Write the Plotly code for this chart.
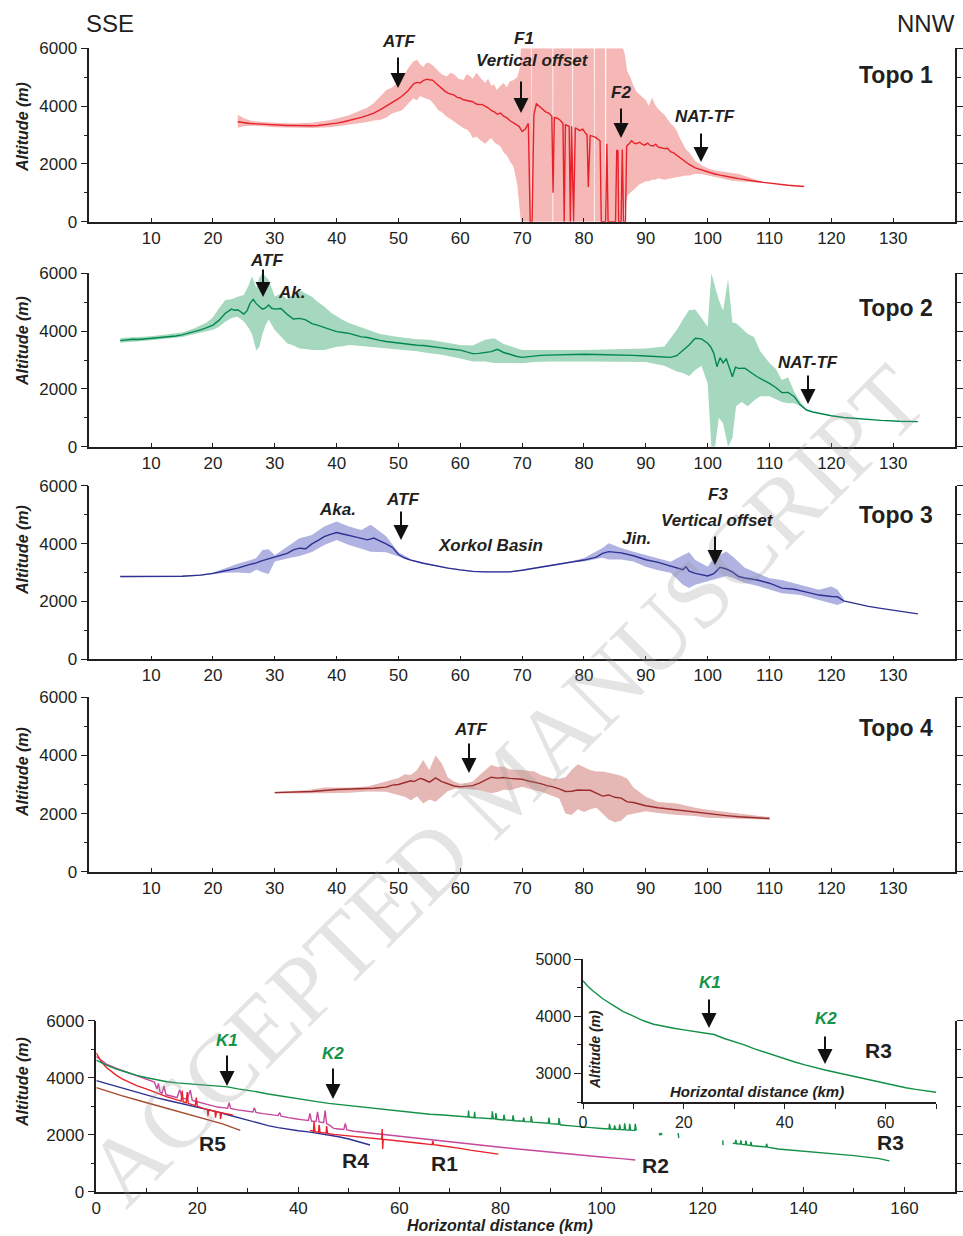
import plotly.graph_objects as go

# ------------------------------------------------------------------ data
# Topo 1 (mean line, swath min/max)
t1_km = [24, 25, 26, 27, 28, 29, 30, 31, 32, 33, 34, 35, 36, 37, 38, 39, 40, 41, 42, 43,
         44, 45, 46, 47, 48, 49, 50, 50.5, 51, 51.5, 52, 52.5, 53, 53.5, 54, 54.6, 55, 55.5, 56, 56.5,
         57, 57.5, 58, 58.5, 59, 59.5, 60, 60.5, 61, 61.5, 62, 62.5, 63, 63.5, 64, 64.5, 65, 65.5, 66, 66.5,
         67, 67.5, 68, 68.5, 69, 69.5, 70, 70.5, 71, 71.3, 71.6, 71.9, 72.3, 72.8, 73.3, 73.8, 74.3, 74.8, 75, 75.2,
         75.7, 76.2, 76.6, 76.8, 77, 77.6, 77.8, 78, 78.3, 78.6, 79.3, 79.8, 80.3, 80.5, 80.7, 81, 81.5, 82,
         82.6, 82.8, 83.5, 83.7, 83.9, 85.1, 85.3, 85.5, 85.6, 86.0, 86.2, 86.4, 86.7, 86.9, 87.3, 87.7, 88.1, 88.5,
         89, 89.4, 89.8, 90.3, 90.7, 91.2, 91.6, 92, 92.5, 93, 93.5, 94, 94.5, 95, 96, 97, 98, 99,
         100, 101, 102, 103, 104, 105, 106, 107, 108, 109, 110, 111, 112, 113, 114, 115, 115.6]
t1_mean = [3460, 3420, 3400, 3385, 3370, 3360, 3345, 3340, 3330, 3330, 3320, 3315, 3320, 3330, 3350, 3380, 3410, 3450, 3500, 3550,
           3610, 3680, 3760, 3870, 3990, 4130, 4260, 4330, 4420, 4520, 4650, 4780, 4820, 4800, 4880, 4930, 4910, 4900, 4800, 4700,
           4600, 4520, 4450, 4420, 4380, 4300, 4280, 4220, 4200, 4170, 4150, 4080, 4050, 4060, 4000, 3940, 3850, 3800, 3720, 3760,
           3650, 3600, 3500, 3440, 3380, 3300, 3120, 3200, 3400, 0, 0, 3700, 4080, 3980, 3900, 3800, 3760, 3650, 1000, 3600,
           3580, 3500, 3400, 0, 3350, 3300, 0, 3300, 0, 3250, 3150, 3200, 3050, 3000, 1200, 2980, 2950, 2900,
           2800, 0, 0, 2700, 0, 0, 2480, 2450, 0, 0, 2500, 0, 0, 2620, 2700, 2800, 2720, 2700,
           2750, 2680, 2650, 2720, 2640, 2620, 2680, 2580, 2560, 2530, 2540, 2420, 2380, 2300, 2150, 1980, 1860, 1790,
           1720, 1660, 1610, 1560, 1530, 1490, 1450, 1420, 1390, 1360, 1330, 1300, 1280, 1260, 1245, 1230, 1220]
t1_band_km = [24, 25, 26, 27, 30, 33, 36, 39, 42, 45, 46, 47, 48, 49, 49.7, 50.5, 51, 51.7, 52.4, 53,
              53.5, 54, 54.5, 55.1, 55.6, 56, 56.5, 57, 57.8, 58.4, 59, 59.7, 60.5, 61, 61.5, 62, 62.6, 63.2, 64, 64.5,
              65, 65.5, 65.9, 66.5, 67, 67.5, 68, 68.6, 69.2, 69.6, 69.8, 71.4, 71.42, 71.52, 71.54, 74.9, 74.92, 75.02, 75.04, 78.1,
              78.12, 78.22, 78.24, 81.6, 81.62, 81.72, 81.74, 83.4, 83.42, 83.58, 83.6, 86.3, 86.6, 87, 87.5, 88, 88.5, 89, 89.5, 90,
              90.5, 91, 91.5, 92, 92.5, 93, 93.5, 94, 94.5, 95, 95.5, 96, 96.5, 97, 98, 99, 100, 101, 102, 103,
              104, 105, 106, 107, 108, 109, 110]
t1_lo = [3250, 3300, 3320, 3320, 3270, 3250, 3240, 3270, 3350, 3450, 3500, 3520, 3600, 3750, 3800, 3850, 3950, 4100, 4270, 4200,
         4350, 4300, 4250, 4210, 4100, 4000, 3850, 3800, 3635, 3550, 3450, 3350, 3230, 3200, 3100, 2900, 2950, 2830, 2700, 2800,
         2900, 2750, 2700, 2600, 2400, 2300, 2100, 1900, 1300, 500, 0, 0, 3000, 3000, 0, 0, 3000, 3000, 0, 0,
         3000, 3000, 0, 0, 3000, 3000, 0, 0, 3000, 3000, 0, 0, 500, 900, 1000, 1100, 1200, 1300, 1350, 1400,
         1400, 1450, 1450, 1500, 1480, 1450, 1480, 1500, 1530, 1550, 1570, 1600, 1600, 1600, 1650, 1650, 1600, 1550, 1500, 1450,
         1420, 1400, 1380, 1370, 1360, 1340, 1330]
t1_hi = [3700, 3580, 3500, 3470, 3420, 3400, 3420, 3520, 3680, 3950, 4100, 4330, 4550, 4650, 4790, 4950, 5100, 5350, 5540, 5600,
         5450, 5350, 5500, 5480, 5400, 5300, 5200, 5100, 5020, 5150, 5100, 4950, 4900, 5100, 5050, 4950, 5150, 5000, 4800, 4950,
         4700, 4750, 4560, 4700, 4800, 4650, 4850, 4900, 5000, 5300, 6000, 6000, 3000, 3000, 6000, 6000, 3000, 3000, 6000, 6000,
         3000, 3000, 6000, 6000, 3000, 3000, 6000, 6000, 3000, 3000, 6000, 6000, 5800, 5200, 5000, 4700, 4500, 4400, 4300, 4200,
         4000, 4300, 4050, 3900, 3800, 3700, 3550, 3400, 3300, 3150, 2900, 2700, 2500, 2400, 2100, 1950, 1850, 1780, 1750, 1720,
         1700, 1650, 1580, 1500, 1430, 1380, 1340]

# Topo 2
t2_km = [5, 6, 7, 8, 9, 10, 11, 12, 13, 14, 15, 16, 17, 18, 19, 20, 21, 22, 23, 23.5,
         24, 25, 25.5, 26, 26.5, 27, 27.5, 28, 28.5, 29, 29.5, 30, 31, 32, 33, 34, 35, 36, 37, 38,
         39, 40, 41, 42, 43, 44, 45, 46, 47, 48, 49, 50, 51, 52, 53, 54, 55, 56, 57, 58,
         59, 60, 61, 62, 63, 64, 65, 66, 67, 68, 69, 70, 71, 72, 73, 74, 75, 76, 78, 80,
         82, 84, 86, 88, 90, 92, 94, 95, 96, 97, 98, 99, 100, 100.5, 101, 101.5, 102, 102.5, 103, 103.5,
         104, 104.5, 105, 106, 107, 108, 109, 110, 111, 112, 113, 114, 115, 116, 117, 118, 120, 122, 125, 128,
         131, 134]
t2_mean = [3670, 3690, 3720, 3710, 3730, 3740, 3750, 3770, 3800, 3830, 3870, 3920, 3980, 4040, 4120, 4210, 4380, 4620, 4760, 4720,
           4740, 4590, 4700, 4960, 5100, 4950, 4850, 4760, 4800, 4900, 4790, 4760, 4780, 4580, 4420, 4440, 4390, 4260, 4200, 4120,
           4060, 3980, 3950, 3920, 3860, 3800, 3780, 3720, 3680, 3640, 3610, 3580, 3550, 3530, 3510, 3500, 3480, 3450, 3420, 3390,
           3360, 3340, 3280, 3220, 3230, 3270, 3290, 3370, 3260, 3200, 3130, 3090, 3120, 3150, 3160, 3170, 3175, 3190, 3200, 3200,
           3190, 3185, 3180, 3160, 3140, 3110, 3090, 3150, 3340, 3520, 3750, 3730, 3580, 3450, 3230, 2770, 3080, 2900, 3050, 2700,
           2420, 2750, 2710, 2720, 2560, 2420, 2300, 2190, 2050, 1870, 1880, 1730, 1440, 1270, 1200, 1150, 1070, 1010, 950, 910,
           880, 866]
t2_band_km = [5, 10, 15, 17, 19, 20, 21, 22, 23, 24, 25, 25.8, 26.3, 27, 27.5, 28, 28.5, 29, 30, 31,
              32, 33, 34, 35, 36, 37, 38, 39, 40, 41, 42, 43, 45, 47, 50, 53, 55, 57, 60, 62,
              64, 65.5, 67, 70, 72, 75, 80, 85, 90, 93, 95, 96, 97, 98, 99, 100, 100.6, 101.2, 101.8, 102.5,
              103.3, 104, 104.6, 105.5, 106.5, 107.5, 108.5, 110, 111, 112, 113, 114, 115, 116]
t2_lo = [3600, 3680, 3800, 3900, 4000, 4050, 4150, 4320, 4450, 4500, 4330, 4100, 3900, 3340, 3450, 3900, 4200, 4400, 4040, 3800,
         3580, 3500, 3400, 3380, 3350, 3350, 3350, 3400, 3460, 3480, 3520, 3500, 3460, 3400, 3350, 3300, 3230, 3180, 3050, 2950,
         2950, 2900, 2900, 2890, 2930, 2950, 2950, 2940, 2930, 2800, 2600, 2550, 2450, 2650, 2800, 2190, 0, 0, 1000, 800,
         0, 300, 1400, 1550, 1400, 1600, 1750, 1750, 1650, 1550, 1500, 1500, 1400, 1250]
t2_hi = [3760, 3820, 3950, 4100, 4300, 4480, 4800, 5080, 5100, 5190, 5250, 5600, 5900, 5500, 5850, 6000, 5900, 5770, 5200, 5300,
         5100, 5250, 5420, 5300, 5190, 5000, 4850, 4650, 4500, 4380, 4280, 4200, 4040, 3900, 3800, 3720, 3700, 3620, 3520, 3500,
         3700, 3750, 3550, 3350, 3340, 3350, 3350, 3370, 3400, 3470, 4040, 4400, 4730, 4750, 4450, 4150, 6000, 5500, 5077, 4700,
         5800, 4300, 4270, 4100, 3900, 3800, 3300, 2900, 2700, 2310, 2400, 1900, 1550, 1300]

# Topo 3
t3_km = [5, 10, 15, 18, 20, 22, 24, 26, 27, 28, 29, 30, 31, 32, 33, 34, 35, 36, 37, 38,
         39, 40, 41, 42, 43, 44, 45, 46, 47, 48, 49, 50, 51, 52, 54, 56, 58, 60, 62, 64,
         66, 68, 70, 72, 74, 76, 78, 80, 82, 83, 84, 85, 86, 88, 90, 92, 94, 95, 96, 96.5,
         97, 98, 99, 100, 101, 102, 103, 104, 105, 106, 108, 110, 112, 114, 116, 118, 120, 121, 122, 124,
         126, 128, 130, 132, 134]
t3_mean = [2860, 2860, 2870, 2910, 2970, 3060, 3150, 3280, 3330, 3410, 3470, 3520, 3590, 3660, 3780, 3840, 3820, 3990, 4110, 4240,
           4320, 4380, 4330, 4270, 4230, 4180, 4130, 4190, 4100, 3990, 3870, 3620, 3500, 3430, 3320, 3230, 3150, 3090, 3040, 3020,
           3010, 3020, 3080, 3150, 3230, 3300, 3370, 3430, 3530, 3660, 3720, 3700, 3680, 3580, 3440, 3350, 3220, 3150, 3100, 3200,
           3050, 2970, 2920, 2880, 2960, 3180, 3120, 3020, 2860, 2810, 2740, 2630, 2460, 2420, 2320, 2220, 2170, 2160, 2020, 1920,
           1830, 1760, 1700, 1630, 1570]
t3_band_km = [5, 10, 15, 18, 20, 22, 24, 26, 27, 28, 29, 30, 32, 34, 36, 38, 40, 42, 44, 45.5,
              47, 48, 50, 52, 54, 56, 58, 60, 62, 64, 66, 68, 70, 72, 74, 76, 78, 80, 83, 84,
              86, 88, 90, 92, 94, 96, 97, 98, 100, 101, 103, 104, 106, 108, 110, 112, 115, 118, 120, 121,
              122]
t3_lo = [2840, 2840, 2850, 2890, 2940, 2990, 3000, 2970, 3100, 3010, 2950, 3380, 3480, 3570, 3710, 3950, 4120, 3950, 3820, 3720,
         3710, 3700, 3550, 3400, 3300, 3210, 3130, 3070, 3020, 3000, 2990, 3000, 3060, 3130, 3210, 3280, 3350, 3380, 3510, 3450,
         3450, 3380, 3200, 3080, 2990, 2580, 2460, 2580, 2690, 2760, 2880, 2820, 2640, 2540, 2400, 2280, 2220, 2050, 1940, 1880,
         1960]
t3_hi = [2880, 2880, 2890, 2930, 3000, 3150, 3300, 3420, 3500, 3780, 3800, 3600, 3900, 4180, 4300, 4590, 4760, 4590, 4470, 4650,
         4420, 4250, 3700, 3460, 3345, 3250, 3170, 3110, 3060, 3040, 3030, 3040, 3100, 3170, 3250, 3320, 3390, 3500, 3850, 4010,
         3850, 3720, 3600, 3480, 3370, 3600, 3700, 3430, 3200, 3500, 3730, 3560, 3160, 2980, 2800, 2740, 2570, 2400, 2520, 2400,
         2100]

# Topo 4
t4_km = [30, 33, 36, 40, 43, 46, 48, 49, 50, 51, 52, 52.5, 53, 53.5, 54, 55, 55.5, 56, 57, 58,
         59, 60, 61, 62, 63, 64, 65, 66, 67, 68, 69, 70, 71, 72, 73, 74, 75, 76, 77, 78,
         79, 80, 81, 82, 83, 84, 85, 86, 87, 88, 90, 92, 95, 98, 100, 103, 105, 108, 110]
t4_mean = [2720, 2730, 2760, 2830, 2850, 2870, 2910, 2980, 3000, 3060, 3130, 3100, 3150, 3210, 3180, 3080, 3150, 3230, 3100, 3020,
           2950, 2920, 2940, 2960, 3040, 3150, 3250, 3220, 3240, 3210, 3200, 3180, 3120, 3080, 3030, 2960, 2920, 2850, 2760, 2770,
           2810, 2800, 2800, 2700, 2600, 2640, 2560, 2530, 2400, 2380, 2270, 2200, 2120, 2040, 1990, 1930, 1890, 1860, 1830]
t4_band_km = [30, 35, 38, 42, 45, 48, 50, 51, 52, 53, 54, 55, 56, 57, 58, 59, 60, 61, 62, 63,
              64, 65, 66, 67, 68, 70, 72, 73, 75, 76, 77, 78, 79, 80, 81, 82, 83, 84, 85, 86,
              87, 88, 90, 92, 95, 98, 100, 105, 110]
t4_lo = [2690, 2690, 2700, 2720, 2760, 2750, 2650, 2580, 2460, 2600, 2350, 2480, 2410, 2590, 2780, 2850, 2860, 2850, 2830, 2820,
         2760, 2700, 2740, 2820, 2800, 2920, 2800, 2760, 2600, 2520, 2000, 1950, 2150, 2050, 2150, 2200, 2000, 1800, 1700, 1750,
         1950, 2000, 2080, 2020, 1950, 1920, 1860, 1820, 1790]
t4_hi = [2750, 2800, 2900, 2900, 2930, 3100, 3220, 3350, 3330, 3500, 3840, 3500, 4010, 3720, 3240, 3100, 3030, 3050, 3100, 3300,
         3500, 3670, 3600, 3620, 3520, 3500, 3450, 3330, 3200, 3200, 3250, 3500, 3700, 3600, 3500, 3450, 3450, 3400, 3350, 3300,
         3200, 2900, 2580, 2400, 2350, 2200, 2130, 2000, 1880]

# River long profiles (bottom panel)
r3_km = [0, 1, 2, 3, 4, 6, 8, 10, 12, 14, 16, 18, 20, 22, 24, 26, 28, 30, 32, 34,
         36, 38, 40, 42, 44, 46, 48, 50, 52, 54, 56, 58, 60, 62, 64, 66, 68, 70, 72, 73.6,
         73.7, 73.8, 74.8, 74.9, 75.0, 76, 78.3, 78.4, 78.6, 79, 79.1, 79.3, 80.6, 80.7, 80.9, 82.4, 82.5, 82.7, 84.5, 84.6,
         84.8, 86, 86.1, 86.3, 88, 89.5, 89.6, 89.8, 91.5, 91.6, 91.8, 92, 94, 96, 98, 100, 101.5, 101.6, 101.8, 102.5,
         102.6, 102.8, 103.5, 103.6, 103.8, 104.5, 104.6, 104.8, 105.5, 105.6, 105.8, 106.6, 106.7, 106.9, 107.1, 111.4, 111.6, 111.8, 112.0, 112.1,
         115.2, 115.3, 115.4, 124.0, 124.1, 124.2, 126.0, 126.5, 126.6, 126.8, 127.5, 127.6, 127.8, 128.5, 128.6, 128.8, 129.5, 129.6, 129.8, 131,
         132.6, 132.7, 132.9, 135, 140, 145, 150, 155, 157]
r3_alt = [4620, 4520, 4440, 4370, 4300, 4190, 4080, 4000, 3920, 3860, 3820, 3790, 3760, 3730, 3700, 3680, 3610, 3560, 3500, 3430,
          3370, 3310, 3250, 3200, 3150, 3100, 3060, 3020, 2980, 2940, 2900, 2860, 2820, 2780, 2750, 2720, 2700, 2670, 2640, 2620,
          2850, 2620, 2600, 2800, 2600, 2590, 2560, 2820, 2560, 2550, 2760, 2540, 2520, 2700, 2520, 2500, 2680, 2490, 2470, 2600,
          2460, 2450, 2650, 2440, 2420, 2400, 2600, 2390, 2370, 2580, 2360, 2340, 2310, 2290, 2250, 2220, 2200, 2380, 2200, 2190,
          2330, 2190, 2180, 2360, 2180, 2170, 2400, 2170, 2160, 2380, 2160, 2150, 2380, 2150, None, 2050, 1980, 2060, 1990, None,
          2060, 1880, None, 1800, 1630, None, 1700, 1690, 1820, 1680, 1670, 1800, 1660, 1650, 1790, 1640, 1620, 1750, 1610, 1590,
          1570, 1680, 1560, 1500, 1430, 1345, 1265, 1160, 1080]
r1_km = [0, 0.5, 1, 2, 3, 4, 5, 6, 7, 8, 10, 12, 14, 16, 16.8, 17, 17.2, 17.8, 18, 18.2,
         19.6, 19.8, 20, 21, 22, 22.1, 22.3, 23, 23.5, 23.6, 23.8, 24.5, 24.6, 24.8, 26, 27, 27.2, 42.3, 43, 43.1,
         43.3, 44, 44.1, 44.3, 45.5, 45.6, 45.8, 47, 48, 49, 50, 51, 52, 53, 55, 56.5, 56.6, 56.7, 56.8, 58,
         60, 62, 64, 66, 66.5, 66.6, 66.8, 68, 70, 72, 74, 76, 78, 79.6]
r1_alt = [4860, 4700, 4560, 4360, 4210, 4080, 3970, 3880, 3800, 3720, 3600, 3460, 3330, 3220, 3180, 3550, 3150, 3120, 3500, 3100,
          3020, 3300, 3000, 2930, 2880, 2650, 2870, 2840, 2820, 2600, 2810, 2780, 2550, 2770, 2730, 2690, None, 2150, 2120, 2450,
          2110, 2090, 2350, 2080, 2050, 2300, 2040, 2010, 1990, 1970, 1950, 1930, 1910, 1890, 1860, 1840, 2200, 1500, 1840, 1820,
          1780, 1740, 1700, 1660, 1650, 1780, 1650, 1620, 1580, 1520, 1460, 1410, 1360, 1320]
r2_km = [0, 1, 2, 4, 6, 8, 10, 11.5, 12, 12.3, 12.6, 13, 13.4, 13.8, 15, 16, 16.5, 17, 18, 18.6,
         19, 20, 21, 22, 23, 24, 25, 26, 26.3, 26.6, 28, 30, 31, 31.3, 31.6, 33, 35, 36, 36.3, 36.6,
         38, 39, 40, 41, 42, 42.3, 42.6, 43.5, 43.8, 44.1, 45, 45.3, 45.6, 46, 47, 48, 49, 49.3, 49.6, 51,
         53, 55, 57, 60, 63, 66, 70, 74, 76, 80, 85, 90, 95, 100, 104, 106.7]
r2_alt = [4740, 4600, 4480, 4330, 4200, 4060, 3950, 3850, 3600, 3800, 3500, 3450, 3700, 3400, 3350, 3300, 3580, 3280, 3250, 3560,
          3200, 3150, 3100, 3050, 3000, 2970, 2950, 2930, 3120, 2920, 2870, 2820, 2800, 2950, 2780, 2740, 2700, 2670, 2780, 2650,
          2600, 2560, 2540, 2520, 2500, 2750, 2480, 2460, 2800, 2450, 2420, 2850, 2380, 2350, 2220, 2200, 2180, 2400, 2170, 2120,
          2080, 2040, 2000, 1940, 1880, 1820, 1740, 1670, 1640, 1560, 1470, 1380, 1300, 1220, 1160, 1110]
r4_km = [0, 2, 4, 6, 8, 10, 12, 14, 16, 18, 20, 22, 24, 26, 28, 30, 32, 34, 36, 38,
         40, 42, 44, 46, 48, 50, 52, 54.2]
r4_alt = [3900, 3800, 3700, 3600, 3480, 3380, 3290, 3210, 3130, 3060, 2980, 2900, 2800, 2700, 2600, 2500, 2400, 2320, 2250, 2190,
          2140, 2100, 2050, 2000, 1930, 1850, 1760, 1640]
r5_km = [0, 5, 10, 15, 20, 25, 28.5]
r5_alt = [3650, 3370, 3120, 2880, 2640, 2380, 2150]

top_xticks = [10, 20, 30, 40, 50, 60, 70, 80, 90, 100, 110, 120, 130]
alt_ticks = [0, 2000, 4000, 6000]
bottom_xticks = [0, 20, 40, 60, 80, 100, 120, 140, 160]
inset_xticks = [0, 20, 40, 60]
inset_yticks = [3000, 4000, 5000]

# ------------------------------------------------------------------ layout helpers
W, H = 963, 1236

def fx(p):
    return p / W

def fy(p):
    return 1 - p / H

TOP_X = (89.3, 955)
TOP_Y = [(48.3, 221.7), (273.3, 446.7), (485.7, 659.3), (697.3, 871.7)]
BOT_X = (96.3, 955)
BOT_Y = (1020.7, 1191.7)
INS_X = (583, 936)
INS_Y = (959, 1102)

SANS = "Liberation Sans, Arial, Helvetica, sans-serif"
NARROW = "Liberation Sans Narrow, Arial Narrow, Liberation Sans, sans-serif"
INK = "#231f20"
TICKFONT = dict(family=SANS, size=17, color=INK)

fig = go.Figure()

topos = [
    (t1_km, t1_mean, t1_band_km, t1_lo, t1_hi, "#e8212a", "#f6b8b6"),
    (t2_km, t2_mean, t2_band_km, t2_lo, t2_hi, "#00884e", "#a6d8bf"),
    (t3_km, t3_mean, t3_band_km, t3_lo, t3_hi, "#2e3192", "#b0b2e2"),
    (t4_km, t4_mean, t4_band_km, t4_lo, t4_hi, "#9b2b2c", "#e5b8b5"),
]

layout_axes = {}
for i, (km, mean, bkm, lo, hi, lc, bc) in enumerate(topos, start=1):
    xa, ya = ("x" if i == 1 else f"x{i}"), ("y" if i == 1 else f"y{i}")
    fig.add_trace(go.Scatter(x=bkm, y=lo, xaxis=xa, yaxis=ya, mode="lines",
                             line=dict(width=0, color=bc), hoverinfo="skip", showlegend=False))
    fig.add_trace(go.Scatter(x=bkm, y=hi, xaxis=xa, yaxis=ya, mode="lines", fill="tonexty",
                             fillcolor=bc, line=dict(width=0, color=bc), hoverinfo="skip", showlegend=False))
    fig.add_trace(go.Scatter(x=km, y=mean, xaxis=xa, yaxis=ya, mode="lines",
                             line=dict(width=1.4, color=lc), showlegend=False))
    y0, y1 = TOP_Y[i - 1]
    layout_axes["xaxis" if i == 1 else f"xaxis{i}"] = dict(
        domain=[fx(TOP_X[0]), fx(TOP_X[1])], range=[0, 140], anchor=ya,
        tickvals=top_xticks, ticks="inside", ticklen=4, tickwidth=1.2, tickcolor=INK,
        showline=True, linecolor=INK, linewidth=1.5, showgrid=False, zeroline=False,
        tickfont=TICKFONT, automargin=False)
    layout_axes["yaxis" if i == 1 else f"yaxis{i}"] = dict(
        domain=[fy(y1), fy(y0)], range=[0, 6000], anchor=xa,
        tickvals=alt_ticks, ticks="outside", ticklen=7, tickwidth=1.2, tickcolor=INK,
        minor=dict(dtick=1000, ticks="outside", ticklen=4, tickcolor=INK),
        showline=True, linecolor=INK, linewidth=1.5, mirror="ticks", showgrid=False, zeroline=False,
        tickfont=TICKFONT, automargin=False)

# bottom panel
rivers = [
    (r5_km, r5_alt, "#a6492f"),
    (r4_km, r4_alt, "#2e3192"),
    (r2_km, r2_alt, "#c6479b"),
    (r1_km, r1_alt, "#e8212a"),
    (r3_km, r3_alt, "#119046"),
]
for km, alt, c in rivers:
    fig.add_trace(go.Scatter(x=km, y=alt, xaxis="x5", yaxis="y5", mode="lines",
                             line=dict(width=1.4, color=c), connectgaps=False, showlegend=False))
layout_axes["xaxis5"] = dict(
    domain=[fx(BOT_X[0]), fx(BOT_X[1])], range=[0, 170], anchor="y5",
    tickvals=bottom_xticks, ticks="inside", ticklen=5, tickwidth=1.2, tickcolor=INK,
    minor=dict(dtick=10, ticks="inside", ticklen=4, tickcolor=INK),
    showline=True, linecolor=INK, linewidth=1.5, showgrid=False, zeroline=False, tickfont=TICKFONT,
    automargin=False)
layout_axes["yaxis5"] = dict(
    domain=[fy(BOT_Y[1]), fy(BOT_Y[0])], range=[0, 6000], anchor="x5",
    tickvals=alt_ticks, ticks="outside", ticklen=7, tickwidth=1.2, tickcolor=INK,
    minor=dict(dtick=1000, ticks="outside", ticklen=4, tickcolor=INK),
    showline=True, linecolor=INK, linewidth=1.5, mirror="ticks", showgrid=False, zeroline=False,
    tickfont=TICKFONT, automargin=False)

# inset (R3, first 70 km)
fig.add_trace(go.Scatter(x=r3_km, y=r3_alt, xaxis="x6", yaxis="y6", mode="lines",
                         line=dict(width=1.4, color="#119046"), connectgaps=False, showlegend=False))
INSFONT = dict(family=SANS, size=16, color=INK)
layout_axes["xaxis6"] = dict(
    domain=[fx(INS_X[0]), fx(INS_X[1])], range=[0, 70], anchor="y6",
    tickvals=inset_xticks, ticks="outside", ticklen=5, tickwidth=1.2, tickcolor=INK,
    minor=dict(dtick=10, ticks="outside", ticklen=5, tickcolor=INK),
    showline=True, linecolor=INK, linewidth=1.5, showgrid=False, zeroline=False, tickfont=INSFONT,
    automargin=False)
layout_axes["yaxis6"] = dict(
    domain=[fy(INS_Y[1]), fy(INS_Y[0])], range=[2500, 5000], anchor="x6",
    tickvals=inset_yticks, ticks="outside", ticklen=7, tickwidth=1.2, tickcolor=INK,
    minor=dict(dtick=500, ticks="outside", ticklen=4, tickcolor=INK),
    showline=True, linecolor=INK, linewidth=1.5, showgrid=False, zeroline=False, tickfont=INSFONT,
    automargin=False)

# ------------------------------------------------------------------ annotations
ann = []

def text(t, x, y, size, color=INK, family=NARROW, angle=0, bold=True, italic=True):
    s = t
    if italic:
        s = f"<i>{s}</i>"
    if bold:
        s = f"<b>{s}</b>"
    ann.append(dict(text=s, x=fx(x), y=fy(y), xref="paper", yref="paper", showarrow=False,
                    xanchor="center", yanchor="middle", textangle=angle,
                    font=dict(family=family, size=size, color=color)))

def arrow(x, y_tail, y_tip):
    ann.append(dict(text="", x=fx(x), y=fy(y_tip), xref="paper", yref="paper",
                    ax=0, ay=-(y_tip - y_tail), showarrow=True, arrowhead=2, arrowsize=1.5,
                    arrowwidth=2, arrowcolor="#111111", standoff=0))

# watermark (sized to stay inside the page)
ann.append(dict(text="ACCEPTED MANUSCRIPT", x=fx(505), y=fy(785), xref="paper", yref="paper",
                showarrow=False, textangle=-45, xanchor="center", yanchor="middle",
                font=dict(family="Liberation Serif, Times New Roman, serif", size=96,
                          color="rgba(150,150,150,0.26)")))

text("SSE", 110, 23, 24, family=SANS, bold=False, italic=False)
text("NNW", 926, 23, 24, family=SANS, bold=False, italic=False)

for yc in (127, 341, 550, 772, 1082):
    text("Altitude (m)", 22, yc, 16, family=SANS, angle=-90)

text("Topo 1", 896, 75, 23, family=SANS, italic=False)
text("Topo 2", 896, 308, 23, family=SANS, italic=False)
text("Topo 3", 896, 515, 23, family=SANS, italic=False)
text("Topo 4", 896, 728, 23, family=SANS, italic=False)

LS = 17
# Topo 1
text("ATF", 398, 41, LS); arrow(398, 56, 88)
text("F1", 524, 39, LS); text("Vertical offset", 532, 61, LS); arrow(521, 80, 113)
text("F2", 621, 92, LS); arrow(621, 107, 138)
text("NAT-TF", 705, 116, LS); arrow(701, 132, 162)
# Topo 2
text("ATF", 266, 260, LS); arrow(263, 268, 297)
text("Ak.", 291, 293, LS)
text("NAT-TF", 808, 362, LS); arrow(808, 374, 404)
# Topo 3
text("Aka.", 337, 509, LS)
text("ATF", 402, 499, LS); arrow(401, 510, 540)
text("Xorkol Basin", 490, 545, LS)
text("Jin.", 636, 538, LS)
text("F3", 718, 495, LS); text("Vertical offset", 717, 520, LS); arrow(715, 535, 565)
# Topo 4
text("ATF", 470, 729, LS); arrow(469, 742, 773)

# bottom panel
GREEN = "#139447"
text("K1", 227, 1040, LS, color=GREEN); arrow(227, 1054, 1086)
text("K2", 333, 1053, LS, color=GREEN); arrow(333, 1067, 1099)
text("R5", 212, 1143, 21, family=SANS, italic=False)
text("R4", 355, 1160, 21, family=SANS, italic=False)
text("R1", 444, 1163, 21, family=SANS, italic=False)
text("R2", 655, 1165, 21, family=SANS, italic=False)
text("R3", 890, 1142, 21, family=SANS, italic=False)
text("Horizontal distance (km)", 500, 1225, 16, family=SANS)

# inset
text("K1", 710, 982, LS, color=GREEN); arrow(709, 998, 1028)
text("K2", 826, 1018, LS, color=GREEN); arrow(825, 1035, 1064)
text("R3", 878, 1050, 21, family=SANS, italic=False)
text("Altitude (m)", 595, 1050, 14, family=SANS, angle=-90)
text("Horizontal distance (km)", 757, 1091, 15, family=SANS)

fig.update_layout(
    width=W, height=H, margin=dict(l=0, r=0, t=0, b=0, pad=0, autoexpand=False),
    paper_bgcolor="white", plot_bgcolor="rgba(0,0,0,0)",
    showlegend=False, annotations=ann, **layout_axes)

fig.write_html("out.html")
